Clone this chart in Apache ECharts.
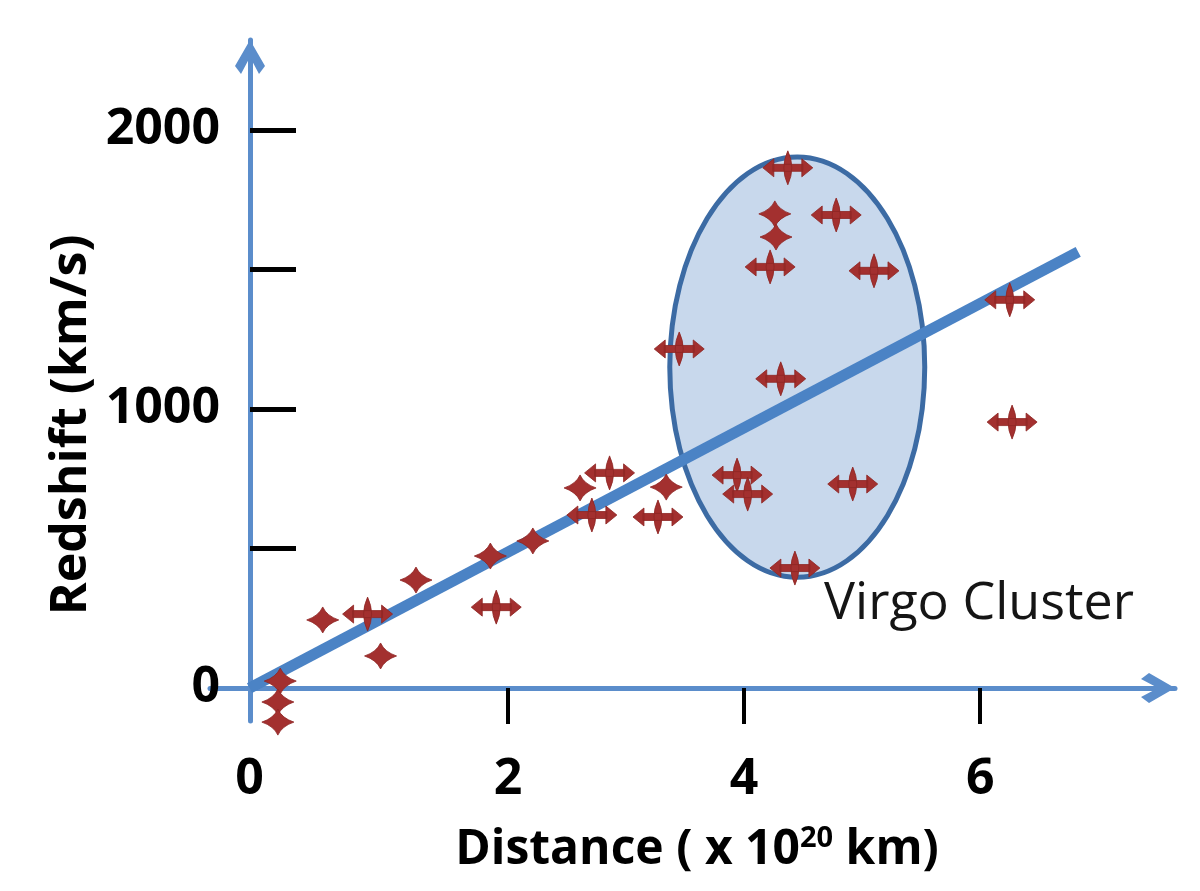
<!DOCTYPE html>
<html>
<head>
<meta charset="utf-8">
<script src="https://cdn.jsdelivr.net/npm/echarts@6/dist/echarts.min.js"></script>
<style>
html,body{margin:0;padding:0;background:#fff;}
#chart{width:1200px;height:891px;}
</style>
</head>
<body>
<div id="chart"></div>
<script>
// ---- data ----
// plain star markers
const starDistance = [0.43, 0.92, 1.22, 1.85, 2.21, 0.07, 0.05, 0.05, 2.61, 3.34, 4.26, 4.27];
const starRedshift = [244, 115, 387, 473, 527, 25, -50, -122, 717, 720, 1699, 1616];
// markers with horizontal double arrows
const arrowDistance = [0.81, 1.90, 2.86, 2.71, 3.27, 3.94, 4.03, 4.92, 4.43, 4.37, 4.22, 4.78, 5.10, 3.45, 4.31, 6.25, 6.27];
const arrowRedshift = [265, 290, 771, 620, 613, 763, 695, 731, 430, 1864, 1509, 1695, 1495, 1215, 1108, 1391, 953];
// fitted line (from the drawn origin of the axes)
const fitDistance = [-0.19, 6.83];
const fitRedshift = [0, 1563];
// Virgo cluster ellipse: centre and half-extents in data units
const virgoCenter = [4.45, 1150];
const virgoHalfSize = [1.08, 753];
// axis ticks / labels
const xOriginValue = -0.19;
const xTickValues = [2, 4, 6];
const xLabelValues = [xOriginValue, 2, 4, 6];
const xTickLabels = ['0', '2', '4', '6'];
const yTickValues = [500, 1000, 1500, 2000];
const yLabelValues = [0, 1000, 2000];
const yTickLabels = ['0', '1000', '2000'];

const xMin = -0.525, xMax = 7.65;
const yMin = -118, yMax = 2322;

const axisBlue = '#5b8dcb';
const markerRed = '#a3302f';
const chevron = 'path://M0,0 L15,26 L9,34 L0,17 L-9,34 L-15,26 Z';
const starPath = 'path://M0,-13 Q4,-4 16,0 Q4,4 0,13 Q-4,4 -16,0 Q-4,-4 0,-13 Z';
const arrowPath = 'path://M0,-17 Q8,0 0,17 Q-8,0 0,-17 Z M-15,-3.5 L15,-3.5 L15,3.5 L-15,3.5 Z M14,-9 L25,0 L14,9 Z M-14,9 L-25,0 L-14,-9 Z';

const chart = echarts.init(document.getElementById('chart'), null, {renderer: 'canvas'});
const font = '"Open Sans", "Liberation Sans", sans-serif';

const option = {
  animation: false,
  backgroundColor: '#ffffff',
  grid: {left: 210, right: 25, top: 40, bottom: 170, containLabel: false},
  xAxis: {
    type: 'value', min: xMin, max: xMax,
    splitLine: {show: false},
    axisLine: {show: true, onZero: true,
      lineStyle: {color: axisBlue, width: 5},
      symbol: ['none', chevron], symbolSize: [30, 34], symbolOffset: [0, -17]},
    axisTick: {show: true, customValues: xTickValues, length: 36, inside: false,
      lineStyle: {color: '#000', width: 4}},
    axisLabel: {show: true, customValues: xLabelValues, margin: 34,
      formatter: function (v) { const i = xLabelValues.indexOf(v); return i >= 0 ? xTickLabels[i] : ''; },
      color: '#000', fontSize: 50, fontWeight: 'bold', fontFamily: font}
  },
  yAxis: {
    type: 'value', min: yMin, max: yMax, position: 'left', offset: -40,
    splitLine: {show: false},
    axisLine: {show: true, onZero: false,
      lineStyle: {color: axisBlue, width: 5},
      symbol: ['none', chevron], symbolSize: [30, 34], symbolOffset: [0, -17]},
    axisTick: {show: true, customValues: yTickValues, length: 46, inside: true,
      lineStyle: {color: '#000', width: 5}},
    axisLabel: {show: true, customValues: yLabelValues, margin: 30,
      formatter: function (v) { const i = yLabelValues.indexOf(v); return i >= 0 ? yTickLabels[i] : ''; },
      color: '#000', fontSize: 50, fontWeight: 'bold', fontFamily: font}
  },
  graphic: [
    {type: 'text', x: 72, y: 425, rotation: Math.PI / 2,
      style: {text: 'Redshift (km/s)', fill: '#000', font: 'bold 50px ' + font, align: 'center', verticalAlign: 'middle'}},
    {type: 'text', x: 697, y: 850,
      style: {text: '{a|Distance ( x 10}{s|20}{a| km)}', align: 'center', verticalAlign: 'middle',
        rich: {
          a: {fill: '#000', fontSize: 48, fontWeight: 'bold', fontFamily: font},
          s: {fill: '#000', fontSize: 29, fontWeight: 'bold', fontFamily: font, padding: [0, 0, 22, 0]}
        }}},
    {type: 'text', x: 824, y: 604,
      style: {text: 'Virgo Cluster', fill: '#151515', font: '52px ' + font, align: 'left', verticalAlign: 'middle'}}
  ],
  series: [
    {
      type: 'custom', z: 1, clip: false, silent: true,
      encode: {x: 0, y: 1},
      data: [[virgoCenter[0], virgoCenter[1], virgoHalfSize[0], virgoHalfSize[1]]],
      renderItem: function (params, api) {
        const c = api.coord([api.value(0), api.value(1)]);
        const s = api.size([api.value(2), api.value(3)]);
        return {type: 'ellipse', shape: {cx: c[0], cy: c[1], rx: s[0], ry: s[1]},
          style: {fill: '#c8d8ec', stroke: '#3c6ba4', lineWidth: 5}};
      }
    },
    {
      type: 'line', z: 2, symbol: 'none', silent: true,
      data: fitDistance.map((d, i) => [d, fitRedshift[i]]),
      lineStyle: {color: '#4b83c5', width: 11, cap: 'butt'}
    },
    {
      type: 'scatter', z: 3, clip: false, symbol: starPath, symbolSize: [32, 26],
      data: starDistance.map((d, i) => [d, starRedshift[i]]),
      itemStyle: {color: markerRed, opacity: 1, borderColor: '#8e2624', borderWidth: 0.8}
    },
    {
      type: 'scatter', z: 3, clip: false, symbol: arrowPath, symbolSize: [50, 34],
      data: arrowDistance.map((d, i) => [d, arrowRedshift[i]]),
      itemStyle: {color: markerRed, opacity: 1, borderColor: '#8e2624', borderWidth: 0.8}
    }
  ]
};
chart.setOption(option);
</script>
</body>
</html>
